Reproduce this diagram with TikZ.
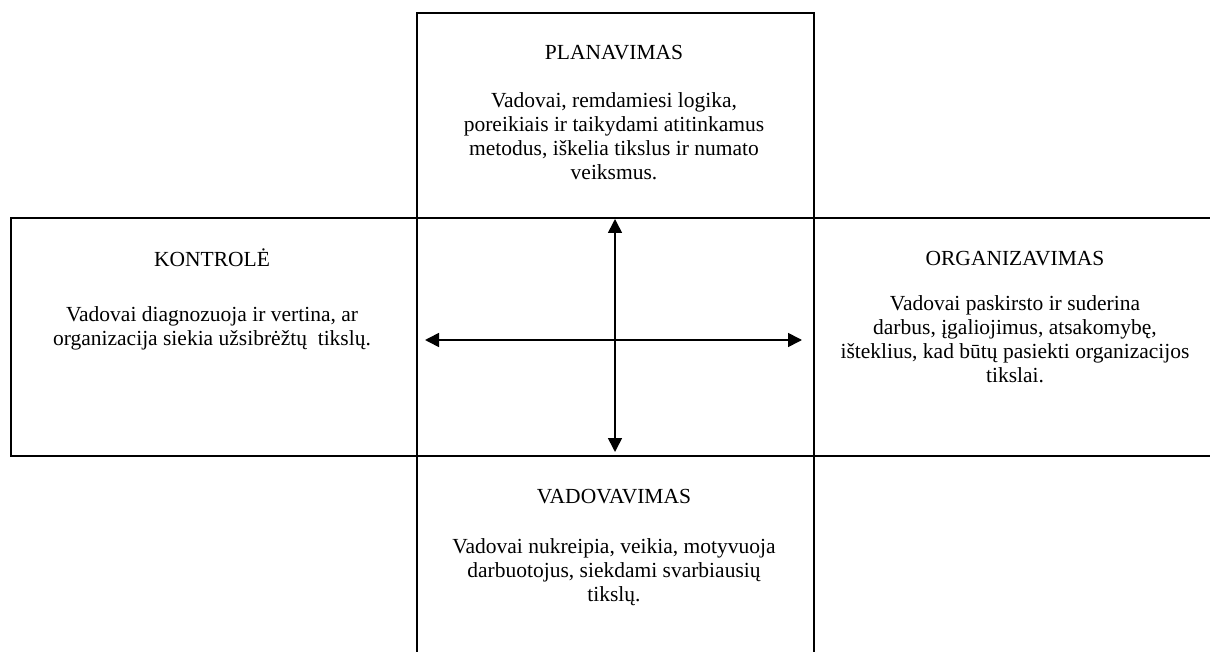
\documentclass[tikz,border=0pt]{standalone}
\usepackage{fontspec}
\setmainfont{Liberation Serif}
\usetikzlibrary{arrows.meta}
\begin{document}
\begin{tikzpicture}[x=1pt,y=-1pt,
  box/.style={draw,line width=2pt,inner sep=0pt,anchor=north west},
  title/.style={font=\fontsize{21.5}{24}\selectfont,anchor=base,inner sep=0pt},
  body/.style={font=\fontsize{21.5}{24}\selectfont,anchor=base,align=center,inner sep=0pt},
  conn/.style={line width=1.6pt,{Triangle[length=14pt,width=14pt]}-{Triangle[length=14pt,width=14pt]}}]
\useasboundingbox (0,0) rectangle (1210,652);
\clip (0,0) rectangle (1210,652);
\node[box,minimum width=397pt,minimum height=205pt] (top) at (416,12) {};
\node[box,minimum width=406pt,minimum height=238pt] (left) at (10,217) {};
\node[box,minimum width=410pt,minimum height=238pt] (right) at (813,217) {};
\node[box,minimum width=397pt,minimum height=215pt] (bottom) at (416,455) {};
\node[title] (t1) at (614,60) {PLANAVIMAS};
\node[body] (b1) at (614,180) {Vadovai, remdamiesi logika,\\poreikiais ir taikydami atitinkamus\\metodus, iškelia tikslus ir numato\\veiksmus.};
\node[title] (t2) at (212,267) {KONTROLĖ};
\node[body] (b2) at (212,345) {Vadovai diagnozuoja ir vertina, ar\\organizacija siekia užsibrėžtų\ \ tikslų.};
\node[title] (t3) at (1015,266) {ORGANIZAVIMAS};
\node[body] (b3) at (1015,382) {Vadovai paskirsto ir suderina\\darbus, įgaliojimus, atsakomybę,\\išteklius, kad būtų pasiekti organizacijos\\tikslai.};
\node[title] (t4) at (614,503) {VADOVAVIMAS};
\node[body] (b4) at (614,601) {Vadovai nukreipia, veikia, motyvuoja\\darbuotojus, siekdami svarbiausių\\tikslų.};
\draw[conn,shorten >=3pt] ([xshift=-0.5pt]top.south) -- ([xshift=-0.5pt]bottom.north);
\draw[conn] ([xshift=7pt,yshift=-3pt]left.east) -- ([xshift=-11pt,yshift=-3pt]right.west);
\end{tikzpicture}
\end{document}
